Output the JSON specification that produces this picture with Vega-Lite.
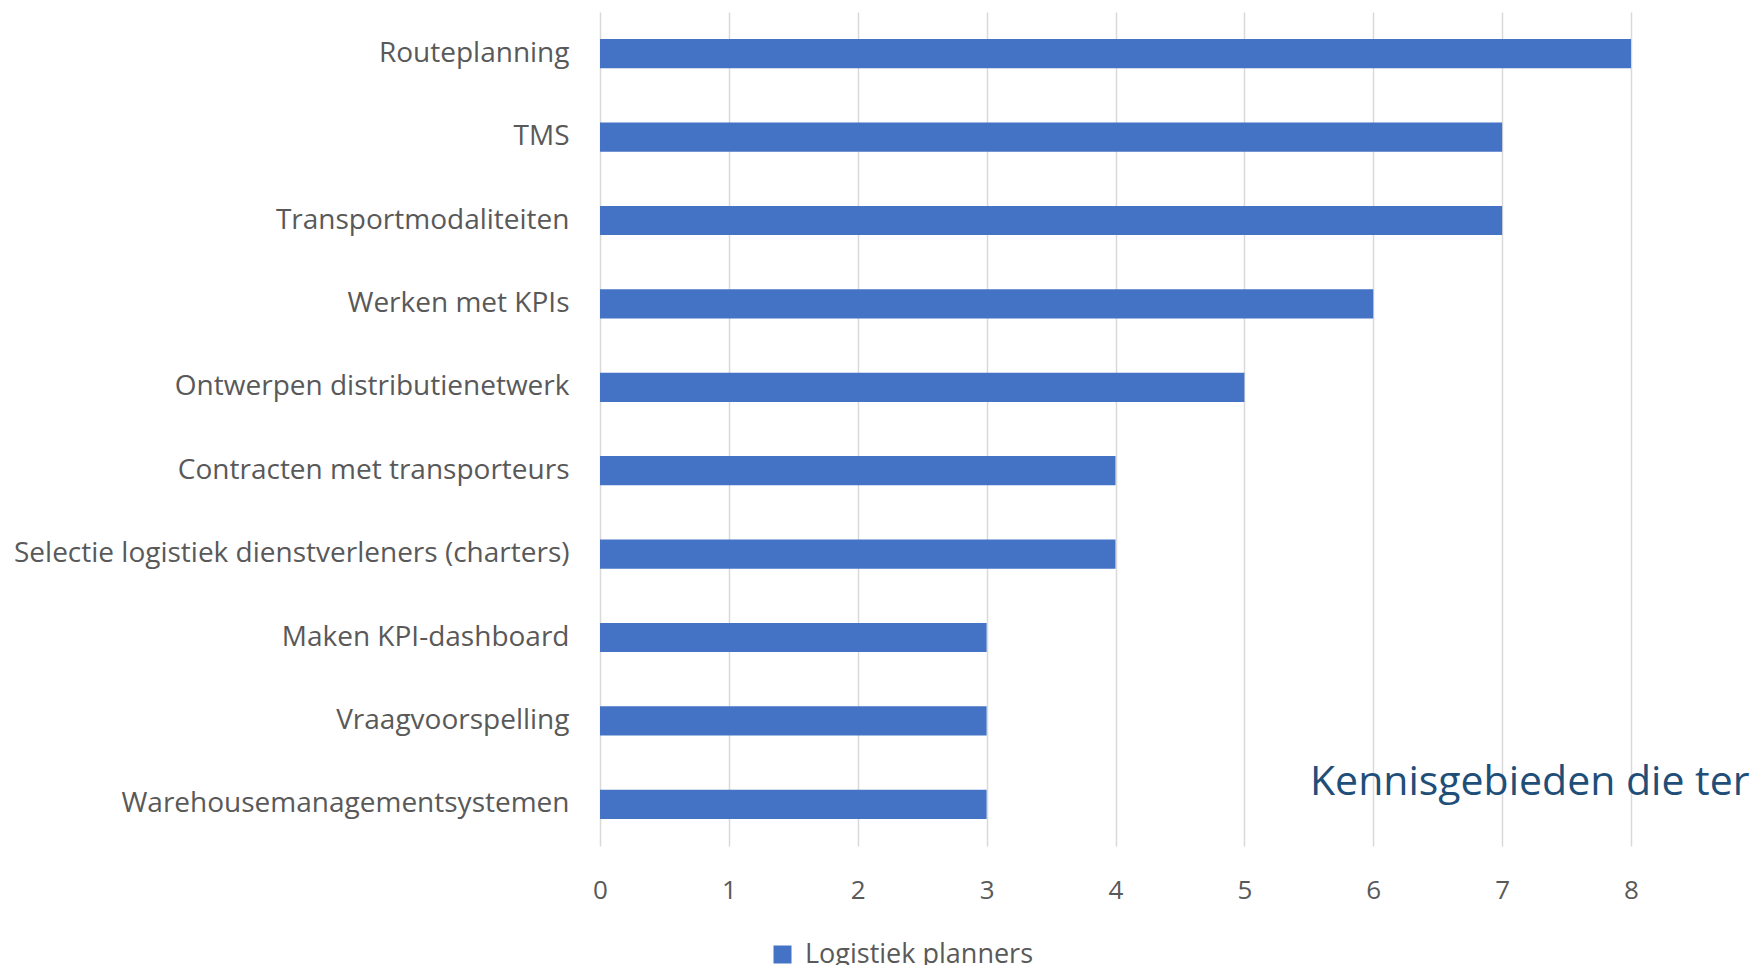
{
  "$schema": "https://vega.github.io/schema/vega-lite/v6.json",
  "autosize": "none",
  "width": 1031,
  "height": 834,
  "padding": {"left": 600, "top": 12, "right": 121, "bottom": 119},
  "background": "white",
  "title": {
    "text": "Kennisgebieden die ter",
    "anchor": "start",
    "frame": "group",
    "orient": "top",
    "offset": 0,
    "dx": 710,
    "dy": 824,
    "baseline": "alphabetic",
    "font": "Open Sans",
    "fontSize": 41,
    "fontWeight": "normal",
    "color": "#1f4e79"
  },
  "data": {
    "values": [
      {"kennisgebied": "Routeplanning", "aantal": 8, "groep": "Logistiek planners"},
      {"kennisgebied": "TMS", "aantal": 7, "groep": "Logistiek planners"},
      {"kennisgebied": "Transportmodaliteiten", "aantal": 7, "groep": "Logistiek planners"},
      {"kennisgebied": "Werken met KPIs", "aantal": 6, "groep": "Logistiek planners"},
      {"kennisgebied": "Ontwerpen distributienetwerk", "aantal": 5, "groep": "Logistiek planners"},
      {"kennisgebied": "Contracten met transporteurs", "aantal": 4, "groep": "Logistiek planners"},
      {"kennisgebied": "Selectie logistiek dienstverleners (charters)", "aantal": 4, "groep": "Logistiek planners"},
      {"kennisgebied": "Maken KPI-dashboard", "aantal": 3, "groep": "Logistiek planners"},
      {"kennisgebied": "Vraagvoorspelling ", "aantal": 3, "groep": "Logistiek planners"},
      {"kennisgebied": "Warehousemanagementsystemen", "aantal": 3, "groep": "Logistiek planners"}
    ]
  },
  "mark": {"type": "bar"},
  "encoding": {
    "y": {
      "field": "kennisgebied",
      "type": "nominal",
      "sort": null,
      "scale": {"paddingInner": 0.65, "paddingOuter": 0.325},
      "axis": {
        "title": null,
        "domain": false,
        "ticks": false,
        "tickSize": 0,
        "grid": false,
        "labelFont": "Open Sans",
        "labelFontSize": 28,
        "labelColor": "#595959",
        "labelPadding": 31,
        "labelLimit": 700
      }
    },
    "x": {
      "field": "aantal",
      "type": "quantitative",
      "scale": {"domain": [0, 8], "nice": false},
      "axis": {
        "title": null,
        "domain": false,
        "ticks": false,
        "tickSize": 0,
        "values": [0, 1, 2, 3, 4, 5, 6, 7, 8],
        "grid": true,
        "gridColor": "#d9d9d9",
        "gridWidth": 1.5,
        "labelFont": "Open Sans",
        "labelFontSize": 26,
        "labelColor": "#595959",
        "labelBaseline": "middle",
        "labelPadding": 44,
        "labelFlush": false
      }
    },
    "color": {
      "field": "groep",
      "type": "nominal",
      "scale": {"range": ["#4472c4"]},
      "legend": {
        "title": null,
        "orient": "none",
        "legendX": 169,
        "legendY": 929,
        "padding": 0,
        "symbolType": "square",
        "symbolSize": 324,
        "symbolStrokeWidth": 0,
        "symbolOffset": 0,
        "labelOffset": 9,
        "labelLimit": 500,
        "labelFont": "Open Sans",
        "labelFontSize": 27,
        "labelColor": "#595959",
        "labelBaseline": "middle"
      }
    }
  },
  "config": {
    "view": {"stroke": null}
  }
}
